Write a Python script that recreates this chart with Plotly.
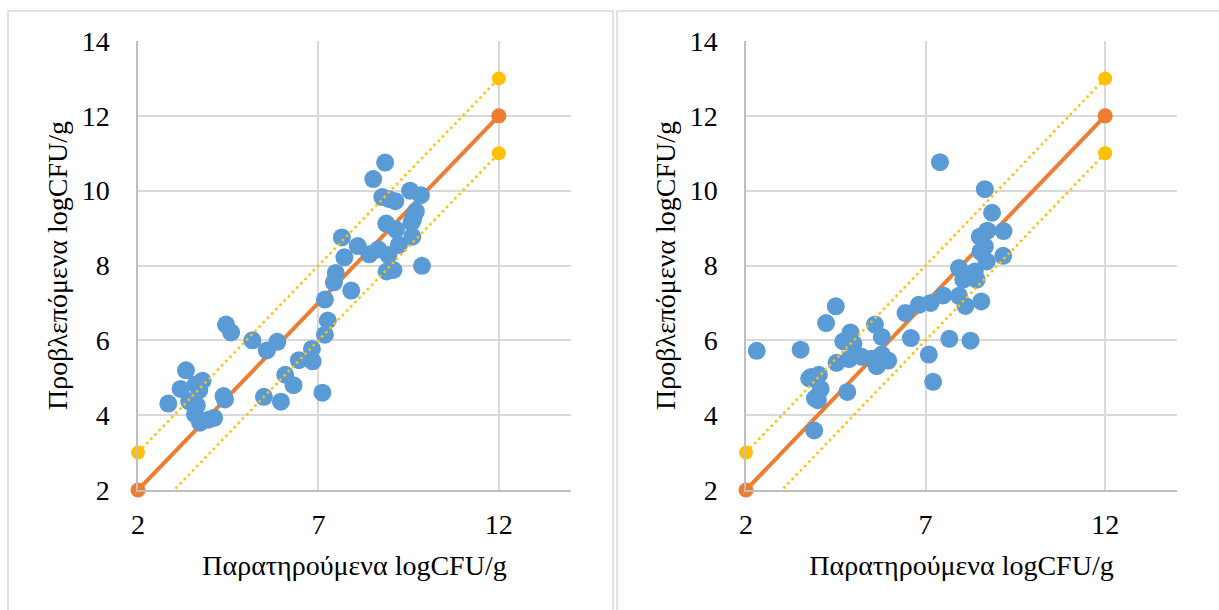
import plotly.graph_objects as go

# ---------------- data ----------------
left_obs = [8.85, 8.52, 8.77, 8.95, 9.13, 9.54, 9.84, 9.70, 9.65, 9.62, 9.58, 8.88, 9.15,
            7.65, 8.09, 7.72, 8.41, 8.66, 8.94, 9.23, 9.60, 9.87, 8.89, 9.08, 7.48, 7.43,
            7.91, 7.18, 7.26, 7.18, 4.44, 4.58, 5.17, 5.57, 5.86, 3.33, 3.18, 2.84, 3.60,
            3.79, 3.70, 3.42, 3.63, 3.58, 3.72, 3.95, 4.11, 4.37, 4.41, 5.49, 5.96, 6.08,
            6.31, 6.46, 6.82, 6.84, 7.11]
left_pred = [10.75, 10.31, 9.83, 9.78, 9.72, 10.00, 9.88, 9.45, 9.35, 9.22, 9.15, 9.12, 8.96,
             8.75, 8.52, 8.22, 8.30, 8.43, 8.28, 8.55, 8.77, 7.99, 7.84, 7.88, 7.80, 7.55,
             7.33, 7.09, 6.53, 6.15, 6.42, 6.21, 6.00, 5.73, 5.96, 5.20, 4.70, 4.31, 4.82,
             4.92, 4.67, 4.37, 4.26, 4.02, 3.80, 3.88, 3.93, 4.51, 4.42, 4.49, 4.36, 5.08,
             4.80, 5.47, 5.77, 5.44, 4.60]

right_obs = [7.40, 8.65, 8.85, 8.72, 8.51, 9.17, 8.65, 8.53, 8.70, 9.16, 7.93, 8.37, 8.05,
             8.42, 7.49, 7.93, 8.11, 8.55, 7.14, 6.81, 6.44, 4.50, 4.23, 2.30, 3.52, 4.91,
             4.71, 4.99, 5.59, 5.78, 6.59, 7.66, 8.25, 7.09, 7.21, 4.52, 4.87, 5.22, 5.50,
             5.64, 5.78, 5.96, 3.81, 4.03, 4.08, 4.00, 3.92, 4.82, 3.90, 3.76]
right_pred = [10.76, 10.04, 9.41, 8.93, 8.77, 8.92, 8.51, 8.37, 8.11, 8.26, 7.93, 7.84, 7.62,
              7.62, 7.20, 7.19, 6.92, 7.04, 7.00, 6.95, 6.73, 6.91, 6.46, 5.72, 5.75, 6.21,
              5.97, 5.91, 6.42, 6.09, 6.06, 6.04, 5.99, 5.62, 4.89, 5.40, 5.50, 5.56, 5.51,
              5.31, 5.62, 5.46, 5.02, 5.08, 4.70, 4.40, 4.45, 4.62, 3.59, 4.98]

line_x = [2, 12]
ideal_y = [2, 12]
upper_y = [3, 13]
lower_y = [1, 11]

x_ticks = [2, 7, 12]
y_ticks = [2, 4, 6, 8, 10, 12, 14]
axis_range = [2, 14]

x_title = "Παρατηρούμενα logCFU/g"
y_title = "Προβλεπόμενα logCFU/g"

# ---------------- style ----------------
W, H = 1219, 610
BLUE = "#5B9BD5"
ORANGE = "#ED7D31"
YELLOW = "#FFC000"
GRID = "#D9D9D9"
AXIS = "#BFBFBF"
FONT = "Liberation Serif"
FS = 28

fig = go.Figure()

panels = [
    (left_obs, left_pred, "x", "y"),
    (right_obs, right_pred, "x2", "y2"),
]

for obs, pred, xa, ya in panels:
    fig.add_trace(go.Scatter(
        x=line_x, y=ideal_y, mode="lines+markers", xaxis=xa, yaxis=ya,
        line=dict(color=ORANGE, width=4), marker=dict(color=ORANGE, size=15),
        cliponaxis=False, showlegend=False, hoverinfo="skip"))
    fig.add_trace(go.Scatter(
        x=obs, y=pred, mode="markers", xaxis=xa, yaxis=ya,
        marker=dict(color=BLUE, size=18, line=dict(width=0)),
        showlegend=False))
    fig.add_trace(go.Scatter(
        x=line_x, y=upper_y, mode="lines+markers", xaxis=xa, yaxis=ya,
        line=dict(color=YELLOW, width=2.5, dash="2.5px,3.5px"),
        marker=dict(color=YELLOW, size=14),
        cliponaxis=False, showlegend=False, hoverinfo="skip"))
    fig.add_trace(go.Scatter(
        x=line_x, y=lower_y, mode="lines+markers", xaxis=xa, yaxis=ya,
        line=dict(color=YELLOW, width=2.5, dash="2.5px,3.5px"),
        marker=dict(color=YELLOW, size=14),
        cliponaxis=True, showlegend=False, hoverinfo="skip"))

y_dom = [1 - 490 / H, 1 - 41 / H]
x_doms = [[138 / W, 571 / W], [746 / W, 1177 / W]]

common_x = dict(range=axis_range, tickvals=x_ticks, showgrid=True, gridcolor=GRID,
                gridwidth=1.5, showline=True, linecolor=AXIS, linewidth=1.5,
                zeroline=False, ticks="", ticklabelstandoff=9, automargin=False,
                tickfont=dict(family=FONT, size=FS, color="black"),
                title=dict(text=x_title, font=dict(family=FONT, size=FS, color="black"),
                           standoff=16))
common_y = dict(range=axis_range, tickvals=y_ticks, showgrid=True, gridcolor=GRID,
                gridwidth=1.5, showline=True, linecolor=AXIS, linewidth=1.5,
                zeroline=False, ticks="", ticklabelstandoff=21, automargin=False,
                tickfont=dict(family=FONT, size=FS, color="black"),
                title=dict(text=y_title, font=dict(family=FONT, size=FS, color="black"),
                           standoff=6))

fig.update_layout(
    width=W, height=H, margin=dict(l=0, r=0, t=0, b=0, autoexpand=False),
    paper_bgcolor="white", plot_bgcolor="white",
    xaxis=dict(domain=x_doms[0], anchor="y", **common_x),
    yaxis=dict(domain=y_dom, anchor="x", **common_y),
    xaxis2=dict(domain=x_doms[1], anchor="y2", **common_x),
    yaxis2=dict(domain=y_dom, anchor="x2", **common_y),
    shapes=[
        dict(type="rect", xref="paper", yref="paper", x0=8 / W, x1=613 / W,
             y0=-0.05, y1=1 - 11 / H, line=dict(color=GRID, width=1.5), layer="below"),
        dict(type="rect", xref="paper", yref="paper", x0=617 / W, x1=1.05,
             y0=-0.05, y1=1 - 11 / H, line=dict(color=GRID, width=1.5), layer="below"),
    ],
)

fig.write_html("out.html")
